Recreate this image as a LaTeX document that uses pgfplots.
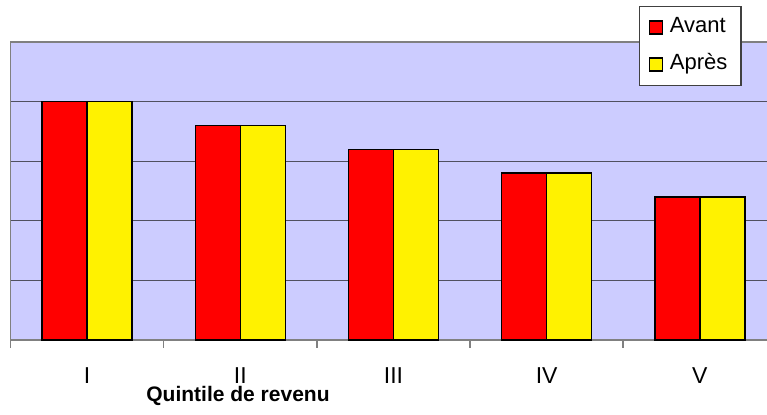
\documentclass[border=0pt]{standalone}
\usepackage{pgfplots}
\pgfplotsset{compat=1.18}
\usepackage{fontspec}
\setmainfont{Liberation Sans}
\definecolor{bg}{RGB}{204,204,255}
\definecolor{gridc}{RGB}{80,80,96}
\definecolor{axc}{RGB}{128,128,128}
\begin{document}
\fontsize{10.5}{12.6}\selectfont
\begin{tikzpicture}
\useasboundingbox (0,0) rectangle (383.5pt,207.5pt);
\begin{axis}[
  at={(5.25pt,37.5pt)}, anchor=south west,
  scale only axis, width=383pt, height=149pt,
  clip=false,
  xmin=0.5, xmax=5.5, ymin=0, ymax=5,
  axis background/.style={fill=bg},
  axis line style={draw=axc, line width=0.9pt},
  ybar=0pt, bar width=22.5pt,
  xtick={1,2,3,4,5}, xticklabels={I,II,III,IV,V},
  minor xtick={0.5,1.5,2.5,3.5,4.5,5.5},
  major tick length=0pt, minor tick length=4pt,
  tick align=outside, xtick pos=lower,
  minor x tick style={draw=axc, line width=0.8pt},
  xticklabel style={anchor=base, yshift=-22pt, font=\fontsize{11.5}{13}\selectfont},
  ytick={1,2,3,4}, yticklabels={}, ymajorgrids,
  ytick style={draw=none},
  major grid style={draw=gridc, line width=0.6pt},
  legend image code/.code={\draw[#1,draw=black,line width=0.6pt] (0pt,-3.25pt) rectangle (6.5pt,3.25pt); \path (10pt,0pt);},
  legend cell align=left,
  legend style={at={(0.8205,1.121)}, anchor=north west, draw=black!75, fill=white, line width=0.6pt,
    inner xsep=4.5pt, inner ysep=3.5pt, row sep=4.5pt, column sep=0pt,
    nodes={inner xsep=0pt, inner ysep=2pt, text width=31pt, text height=7.5pt, text depth=2.5pt, align=left, font=\fontsize{11}{13}\selectfont}},
]
\addplot[fill=red, draw=black, line width=0.75pt] coordinates {(1,4) (2,3.6) (3,3.2) (4,2.8) (5,2.4)};
\addplot[fill=yellow, draw=black, line width=0.75pt] coordinates {(1,4) (2,3.6) (3,3.2) (4,2.8) (5,2.4)};
\legend{Avant,Après}
\node[font=\bfseries, anchor=base] at (rel axis cs:0.297,0) [yshift=-31pt] {Quintile de revenu};
\end{axis}
\end{tikzpicture}
\end{document}
